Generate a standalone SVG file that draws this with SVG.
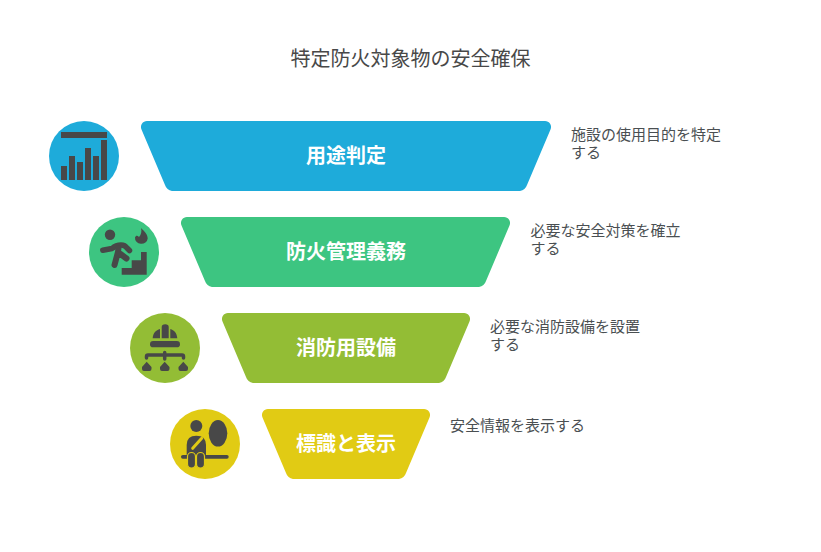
<svg xmlns="http://www.w3.org/2000/svg" width="821" height="552" viewBox="0 0 821 552">
<style>
text{font-family:"Noto Sans CJK JP","Noto Sans",sans-serif}
.t{font-size:20px;fill:#484848;text-anchor:middle}
.l{font-size:20px;font-weight:700;fill:#fff;text-anchor:middle}
.d{font-size:15px;fill:#4a4f52}
.i{fill:#484848}
.s{fill:none;stroke:#484848;stroke-linecap:round;stroke-linejoin:round}
</style>
<rect width="821" height="552" fill="#fff"/>
<text class="t" x="410.500" y="66">特定防火対象物の安全確保</text>
<g id="connectors"></g>
<g id="node-1">
<circle cx="84" cy="156" r="35" fill="#1eabda"/>
<path class="i" d="M61 132h46v6H61zM61 166h6v14h-6zM69 156h6v24h-6zM77 162h6v18h-6zM85 148h6v32h-6zM93 156h6v24h-6zM101 140h6v40h-6z"/>
<path d="M147 121H545A6 6 0 0 1 550.500 129.500L527 185A9 9 0 0 1 520 191H172A9 9 0 0 1 165 185L141.500 129.500A6 6 0 0 1 147 121Z" fill="#1eabda"/>
<text class="l" x="346" y="163">用途判定</text>
<text class="d" y="140"><tspan x="571">施設の使用目的を特定</tspan><tspan x="571" dy="18">する</tspan></text>
</g>
<g id="node-2">
<circle cx="124" cy="252" r="35" fill="#3dc581"/>
<circle class="i" cx="110" cy="234.700" r="5.200"/>
<path class="i" d="M141 228C144 231 147.700 234 147.700 238.500A6.300 5.800 0 1 1 135 237.500C136 235 137.500 235.500 139 237C141 235 142 231 141 228Z"/>
<path class="s" stroke-width="5.500" d="M102.800 250.300L112 248.500Q116 245 121 245Q125 245 127 248L129.500 250.500"/>
<path class="s" stroke-width="6" d="M118.500 248L118 252L120.500 254L126.500 258.500M118 252L114.500 265"/>
<path class="i" d="M121.700 274.700V268H131.700V260.300H141V252H146.700V274.700Z"/>
<path d="M187 217H504A6 6 0 0 1 509.500 225.500L486 281A9 9 0 0 1 479 287H212A9 9 0 0 1 205 281L181.500 225.500A6 6 0 0 1 187 217Z" fill="#3dc581"/>
<text class="l" x="346" y="259">防火管理義務</text>
<text class="d" y="236"><tspan x="530.500">必要な安全対策を確立</tspan><tspan x="530.500" dy="18">する</tspan></text>
</g>
<g id="node-3">
<circle cx="165" cy="348" r="35" fill="#93bd35"/>
<path class="i" d="M152.700 338.300C153 333 156 330 160 329V338.300ZM161.700 338.300V327Q161.700 324.300 165.200 324.300Q168.700 324.300 168.700 327V338.300ZM170.300 338.300V329C174 330 177 333 177.300 338.300Z"/>
<rect class="i" x="150" y="341" width="30" height="6.300" rx="3.150"/>
<path class="s" stroke-width="3.500" d="M146.500 358V356.500Q146.500 355 148 355H182Q183.500 355 183.500 356.500V358M164.700 352.500V359"/>
<path class="i" d="M146.700 361.700L151.500 367V369Q151.500 371 149.500 371H144Q142 371 142 369V367ZM164.700 361.700L169.500 367V369Q169.500 371 167.500 371H162Q160 371 160 369V367ZM183.300 361.700L188 367V369Q188 371 186 371H180.500Q178.500 371 178.500 369V367Z"/>
<path d="M228 313H464A6 6 0 0 1 469.500 321.500L446 377A9 9 0 0 1 439 383H253A9 9 0 0 1 246 377L222.500 321.500A6 6 0 0 1 228 313Z" fill="#93bd35"/>
<text class="l" x="346" y="355">消防用設備</text>
<text class="d" y="332"><tspan x="490">必要な消防設備を設置</tspan><tspan x="490" dy="18">する</tspan></text>
</g>
<g id="node-4">
<circle cx="205" cy="444" r="35" fill="#e1cb14"/>
<circle class="i" cx="196.300" cy="426" r="6"/>
<ellipse class="i" cx="218" cy="433.300" rx="9.300" ry="13.300"/>
<path class="i" d="M186.700 456V445Q186.700 435.700 196.300 435.700Q206 435.700 206 445V456Z"/>
<path stroke="#e1cb14" stroke-width="3" stroke-linecap="round" fill="none" d="M192.700 448.300L201.700 438.300"/>
<rect class="i" x="181" y="455" width="47.700" height="3.700" rx="1.850"/>
<rect class="i" x="187.500" y="452.500" width="8" height="15.500" rx="4" stroke="#e1cb14" stroke-width="1.200"/>
<rect class="i" x="196.500" y="452.500" width="8" height="15.500" rx="4" stroke="#e1cb14" stroke-width="1.200"/>
<path d="M268 409H424A6 6 0 0 1 429.500 417.500L406 473A9 9 0 0 1 399 479H293A9 9 0 0 1 286 473L262.500 417.500A6 6 0 0 1 268 409Z" fill="#e1cb14"/>
<text class="l" x="346" y="451">標識と表示</text>
<text class="d" x="450" y="431">安全情報を表示する</text>
</g>
</svg>
